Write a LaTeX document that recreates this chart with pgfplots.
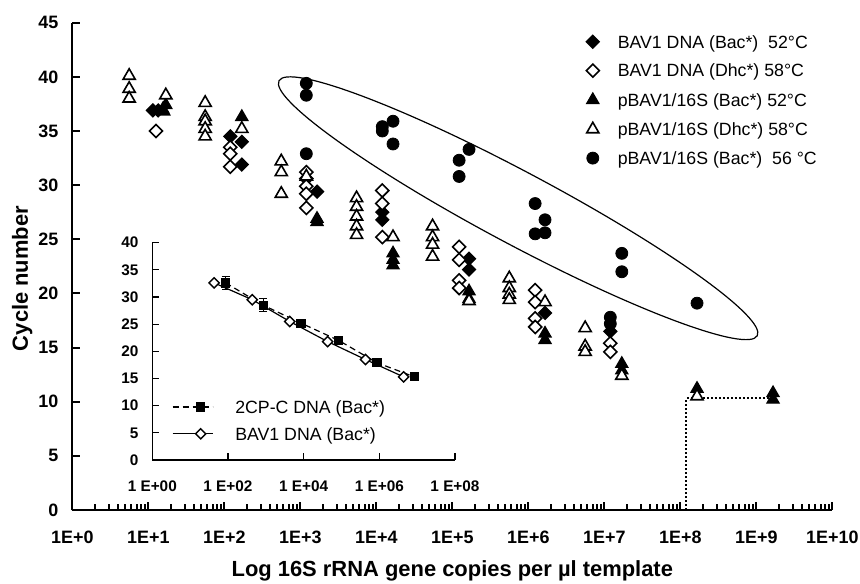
\documentclass[border=0pt]{standalone}
\usepackage{fontspec}
\setmainfont{Liberation Sans}
\usepackage{pgfplots}
\pgfplotsset{compat=1.18}
\begin{document}
\begin{tikzpicture}
\useasboundingbox (-36.15bp,-37bp) rectangle (393.85bp,255bp);
% main plot
\begin{axis}[
  at={(0,0)}, anchor=south west,
  scale only axis, width=380bp, height=243.65bp,
  xmode=log, xmin=1, xmax=1e10, ymin=0, ymax=45,
  axis lines=left, axis line style={-, line width=1.1bp},
  tick align=inside, major tick length=4bp, tick style={line width=1bp, black},
  xtick={1,1e1,1e2,1e3,1e4,1e5,1e6,1e7,1e8,1e9,1e10},
  xticklabels={1E+0,1E+1,1E+2,1E+3,1E+4,1E+5,1E+6,1E+7,1E+8,1E+9,1E+10},
  minor xtick={},
  ytick={0,5,...,45},
  /pgf/number format/assume math mode=true,
  tick label style={font=\fontsize{9}{10}\selectfont\bfseries},
  xticklabel style={yshift=-7bp},
  yticklabel style={xshift=-3.5bp},
  xlabel={Log 16S rRNA gene copies per µl template},
  ylabel={Cycle number},
  label style={font=\fontsize{11}{13}\selectfont\bfseries},
  xlabel style={at={(axis description cs:0.5,-0.125)}, anchor=center},
  ylabel style={at={(axis description cs:-0.066,0.475)}, anchor=center},
  legend cell align=left,
  legend style={draw=none, fill=none, at={(0.6733,0.975)}, anchor=north west,
    inner sep=0pt, font=\fontsize{8.9}{10.5}\selectfont, row sep=6.5bp, nodes={inner sep=0pt}},
  legend image code/.code={\path (0bp,0bp) (16.3bp,0bp); \draw[#1] plot coordinates {(4bp,0.7bp)};},
]
\addplot[black, line width=1bp, dash pattern=on 1bp off 1bp, forget plot]
  coordinates {(1.2e8,0) (1.2e8,10.3) (1.66e9,10.3)};

% BAV1 DNA (Bac*) 52 C
\addplot[black, only marks, mark=square*, mark size=2.3bp,
  mark options={rotate=45, fill=black, line width=0.6bp}] coordinates {
  (11.5,36.9) (13.5,36.9)
  (120,34.5) (170,34.0) (170,31.9)
  (1660,29.4)
  (12000,27.5) (12000,26.8)
  (166000,23.2) (166000,22.2)
  (1.66e6,18.2)
  (1.2e7,16.5)
};
\addlegendentry{BAV1 DNA (Bac*)\ \ 52°C}

% BAV1 DNA (Dhc*) 58 C
\addplot[black, only marks, mark=square*, mark size=2.3bp,
  mark options={rotate=45, fill=white, line width=0.8bp}] coordinates {
  (12.6,35.0)
  (120,33.5) (120,32.9) (120,31.7)
  (1200,31.2) (1200,30.6) (1200,29.9) (1200,29.2) (1200,27.9)
  (12000,29.5) (12000,28.3) (12000,25.2)
  (123000,24.3) (123000,23.1) (123000,21.2) (123000,20.5)
  (1.23e6,20.3) (1.23e6,19.2) (1.23e6,17.7) (1.23e6,16.9)
  (1.2e7,15.4) (1.2e7,14.6)
};
\addlegendentry{BAV1 DNA (Dhc*) 58°C}

% pBAV1/16S (Bac*) 52 C
\addplot[black, only marks, mark=triangle*, mark size=3.5bp,
  mark options={fill=black, line width=0.6bp}] coordinates {
  (15.5,37.0) (17,37.4) (16,36.8)
  (170,36.3)
  (1660,26.9) (1660,26.6)
  (16600,23.7) (16600,23.1) (16600,22.6)
  (166000,20.2) (166000,19.5)
  (1.66e6,16.3) (1.66e6,15.7)
  (1.7e7,13.5) (1.7e7,12.9)
  (1.66e8,11.2) (1.66e9,10.8) (1.66e9,10.2)
};
\addlegendentry{pBAV1/16S (Bac*) 52°C}

% pBAV1/16S (Dhc*) 58 C
\addplot[black, only marks, mark=triangle*, mark size=3.5bp,
  mark options={fill=white, line width=0.8bp}] coordinates {
  (5.6,40.1) (5.6,38.9) (5.6,38.0)
  (17,38.3)
  (56,37.6) (56,36.3) (56,35.9) (56,35.2) (56,34.5)
  (170,35.2)
  (562,32.2) (562,31.2) (562,29.2)
  (1200,30.8)
  (5500,28.8) (5500,28.0) (5500,27.1) (5500,26.2) (5500,25.4)
  (16600,25.2)
  (55000,26.2) (55000,25.2) (55000,24.5) (55000,23.4)
  (166000,19.3)
  (562000,21.4) (562000,20.5) (562000,19.9) (562000,19.4)
  (1.66e6,19.2)
  (5.6e6,16.8) (5.6e6,15.1) (5.6e6,14.6)
  (1.7e7,12.4)
  (1.66e8,10.5)
};
\addlegendentry{pBAV1/16S (Dhc*) 58°C}

% pBAV1/16S (Bac*) 56 C
\addplot[black, only marks, mark=*, mark size=3bp,
  mark options={fill=black}] coordinates {
  (1200,39.4) (1200,38.3) (1200,32.9)
  (12000,35.4) (12000,35.0) (16600,35.9) (16600,33.8)
  (123000,32.3) (123000,30.8) (166000,33.3)
  (1.23e6,28.3) (1.66e6,26.8) (1.23e6,25.5) (1.66e6,25.6)
  (1.7e7,23.7) (1.7e7,22.0) (1.2e7,17.8) (1.2e7,17.2)
  (1.66e8,19.1)
};
\addlegendentry{pBAV1/16S (Bac*)\ \ 56 °C}

\draw[line width=0.6bp, shift={(axis cs:304000,29.3)}, rotate=-28.06]
  (0,0) ellipse [x radius=135.5bp, y radius=18bp];
\end{axis}

% inset
\begin{axis}[
  at={(40bp,25bp)}, anchor=south west,
  scale only axis, width=151.35bp, height=108.65bp,
  xmode=log, xmin=1, xmax=1e8, ymin=0, ymax=40,
  axis lines=left, axis line style={-, line width=0.6bp},
  tick align=inside, major tick length=3.5bp, tick style={line width=0.6bp, black},
  xtick={1,1e2,1e4,1e6,1e8},
  xticklabels={1 E+00,1 E+02,1 E+04,1 E+06,1 E+08},
  minor xtick={},
  ytick={0,5,...,40},
  /pgf/number format/assume math mode=true,
  tick label style={font=\fontsize{7.7}{9}\selectfont\bfseries},
  xticklabel style={yshift=-7bp},
  yticklabel style={xshift=-3.4bp},
  legend cell align=left,
  legend style={draw=none, fill=none, at={(0.064,0.276)}, anchor=north west,
    inner sep=0pt, font=\fontsize{8.9}{10.5}\selectfont, row sep=5.5bp, nodes={inner sep=0pt}},
  legend image code/.code={\draw[mark repeat=2, mark phase=2, #1] plot coordinates {(0bp,0.7bp) (14bp,0.7bp) (20bp,0.7bp)}; \path (31bp,0bp);},
]
\addplot[black, line width=0.6bp, dash pattern=on 3bp off 2bp,
  mark=square*, mark size=2bp, mark options={solid, fill=black},
  error bars/.cd, y dir=both, y explicit,
  error bar style={solid, line width=0.5bp},
  error mark options={solid, rotate=90, mark size=2bp, line width=0.5bp}]
  coordinates {
  (87,32.6) +- (0,1.2)
  (850,28.5) +- (0,1.2)
  (8500,25.2) +- (0,0.5)
  (85000,22.0) +- (0,0.5)
  (8.7e5,17.9) +- (0,0.4)
  (8.5e6,15.3) +- (0,0.3)
};
\addlegendentry{2CP-C DNA (Bac*)}
\addplot[black, line width=0.6bp, mark=square*, mark size=1.8bp,
  mark options={rotate=45, fill=white, line width=0.7bp}] coordinates {
  (43,32.6) (440,29.5) (4300,25.5) (43000,21.8) (4.3e5,18.5) (4.4e6,15.3)
};
\addlegendentry{BAV1 DNA (Bac*)}
\end{axis}
\end{tikzpicture}
\end{document}
